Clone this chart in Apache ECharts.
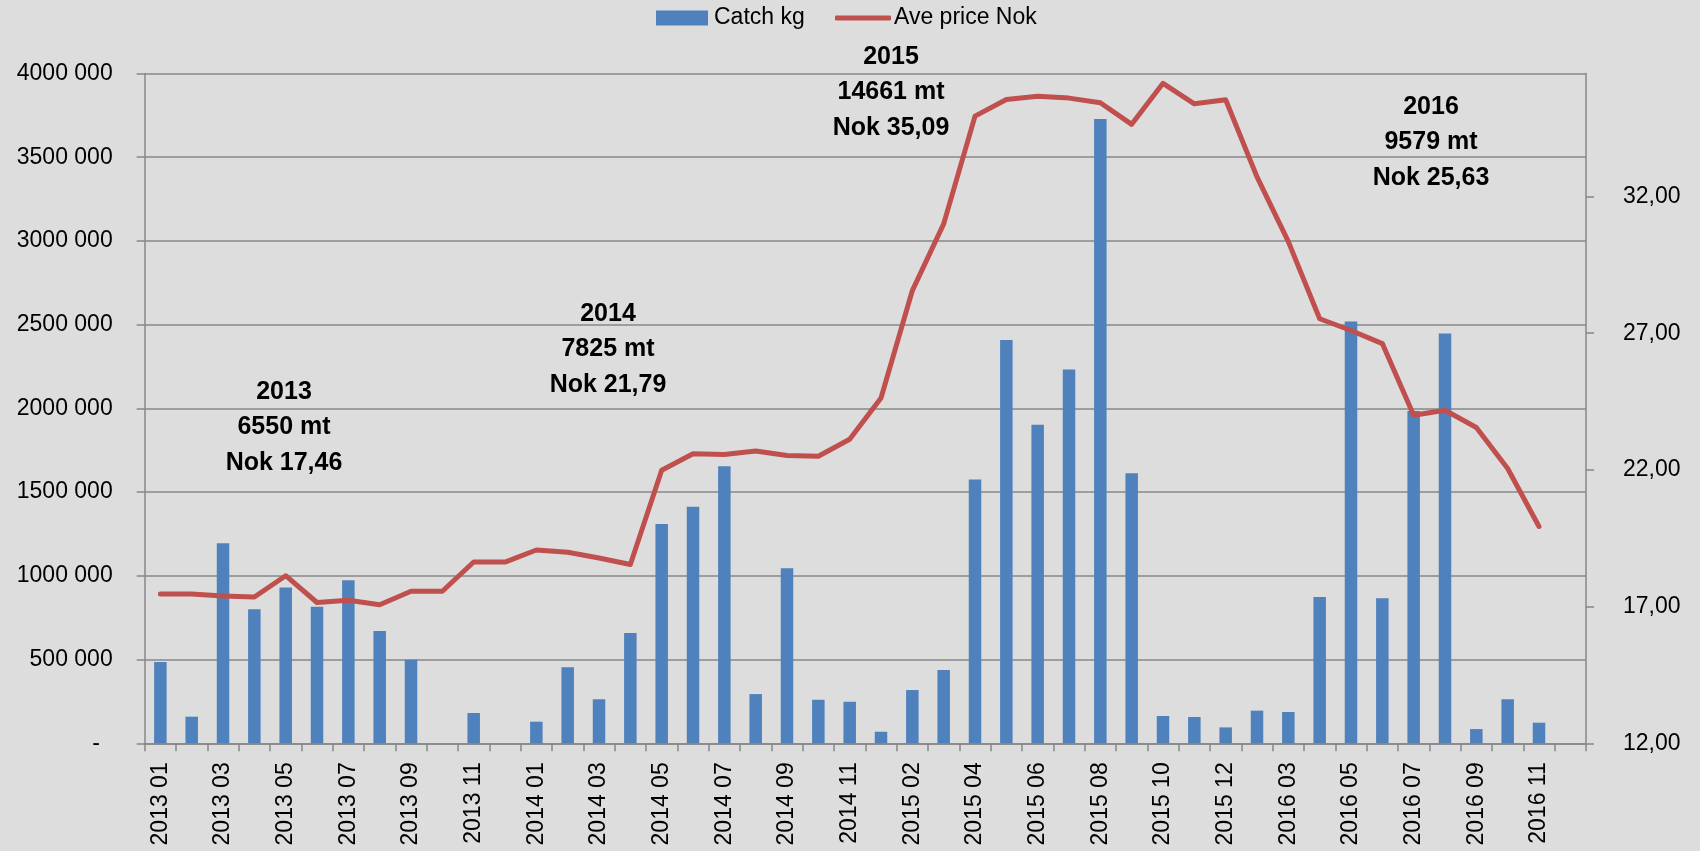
<!DOCTYPE html>
<html>
<head>
<meta charset="utf-8">
<script src="https://cdn.jsdelivr.net/npm/echarts@6/dist/echarts.min.js"></script>
<style>
html,body{margin:0;padding:0;background:#dddddd;}
#chart{width:1700px;height:851px;}
</style>
</head>
<body>
<div id="chart"></div>
<script>
// ---- data ----
const categories = [
  '2013 01','2013 02','2013 03','2013 04','2013 05','2013 06','2013 07','2013 08','2013 09','2013 10','2013 11','2013 12',
  '2014 01','2014 02','2014 03','2014 04','2014 05','2014 06','2014 07','2014 08','2014 09','2014 10','2014 11','2015 01',
  '2015 02','2015 03','2015 04','2015 05','2015 06','2015 07','2015 08','2015 09','2015 10','2015 11','2015 12','2016 01',
  '2016 03','2016 04','2016 05','2016 06','2016 07','2016 08','2016 09','2016 10','2016 11','2016 12'
];
const catchKg = [
  485000, 159000, 1194000, 800000, 931000, 816000, 973000, 670000, 499000, 0, 181000, 0,
  129000, 454000, 263000, 658000, 1309000, 1413000, 1654000, 294000, 1045000, 260000, 248000, 69000,
  318000, 438000, 1576000, 2408000, 1902000, 2233000, 3729000, 1612000, 163000, 157000, 95000, 195000,
  187000, 873000, 2519000, 866000, 1984000, 2448000, 85000, 263000, 123000, null
];
const avePriceNok = [
  17.46, 17.46, 17.39, 17.35, 18.13, 17.15, 17.23, 17.07, 17.56, 17.56, 18.63, 18.63,
  19.07, 18.99, 18.78, 18.54, 21.99, 22.59, 22.56, 22.69, 22.53, 22.50, 23.12, 24.63,
  28.56, 31.00, 34.94, 35.55, 35.67, 35.60, 35.43, 34.64, 36.14, 35.39, 35.54, 32.72,
  30.35, 27.53, 27.10, 26.62, 24.00, 24.18, 23.55, 22.05, 19.93, null
];
const seriesNames = ['Catch kg', 'Ave price Nok'];
const leftTicks = { min: 0, max: 4000000, interval: 500000 };
const rightTicks = { min: 12, max: 36.5, interval: 5 };
const yearNotes = [
  ['2013', '6550 mt', 'Nok 17,46'],
  ['2014', '7825 mt', 'Nok 21,79'],
  ['2015', '14661 mt', 'Nok 35,09'],
  ['2016', '9579 mt', 'Nok 25,63']
];

// ---- layout (text placement only) ----
const notePos = [[284, 392], [608, 314], [891, 57], [1431, 107]];
const noteLineGap = 35.5;
const FONT = '"Liberation Sans", Arial, sans-serif';
const AXIS_GRAY = '#878787';

const graphics = [];
yearNotes.forEach((lines, i) => {
  lines.forEach((t, j) => {
    graphics.push({
      type: 'text',
      x: notePos[i][0],
      y: notePos[i][1] + j * noteLineGap,
      style: {
        text: t,
        fill: '#000',
        font: 'bold 25px ' + FONT,
        textAlign: 'center',
        textVerticalAlign: 'middle'
      },
      z: 100
    });
  });
});

const legendText = { fontSize: 23, color: '#000', fontFamily: FONT, lineHeight: 26 };

const chart = echarts.init(document.getElementById('chart'), null, { renderer: 'canvas' });
chart.setOption({
  backgroundColor: '#dddddd',
  animation: false,
  textStyle: { fontFamily: FONT },
  legend: [
    {
      data: [{ name: seriesNames[0], icon: 'rect' }],
      left: 656, top: 5, padding: 0,
      itemWidth: 52, itemHeight: 15, itemGap: 6,
      textStyle: Object.assign({ padding: [0, 0, 0, 1] }, legendText)
    },
    {
      data: [{ name: seriesNames[1], icon: 'roundRect' }],
      left: 835, top: 5, padding: 0,
      itemWidth: 56, itemHeight: 5,
      textStyle: Object.assign({ padding: [0, 0, 0, -2] }, legendText)
    }
  ],
  grid: { left: 144.7, right: 114, top: 73.5, bottom: 107.7, containLabel: false },
  xAxis: {
    type: 'category',
    data: categories,
    boundaryGap: true,
    axisLine: { lineStyle: { color: AXIS_GRAY, width: 1.5 } },
    axisTick: { show: true, interval: 0, length: 8, lineStyle: { color: AXIS_GRAY, width: 1.5 } },
    axisLabel: {
      interval: 1, rotate: 90, margin: 19,
      fontSize: 23, color: '#000', fontFamily: FONT
    },
    splitLine: { show: false }
  },
  yAxis: [
    {
      type: 'value',
      min: leftTicks.min, max: leftTicks.max, interval: leftTicks.interval,
      axisLine: { show: true, lineStyle: { color: AXIS_GRAY, width: 1.5 } },
      axisTick: { show: true, length: 8, lineStyle: { color: AXIS_GRAY, width: 1.5 } },
      axisLabel: {
        margin: 32, fontSize: 23, color: '#000', fontFamily: FONT,
        formatter: v => v === 0 ? '-  ' : Math.floor(v / 1000) + ' 000'
      },
      splitLine: { show: true, lineStyle: { color: AXIS_GRAY, width: 1.5 } }
    },
    {
      type: 'value',
      position: 'right',
      min: rightTicks.min, max: rightTicks.max, interval: rightTicks.interval,
      axisLine: { show: true, lineStyle: { color: AXIS_GRAY, width: 1.5 } },
      axisTick: { show: true, length: 8, lineStyle: { color: AXIS_GRAY, width: 1.5 } },
      axisLabel: {
        margin: 37, fontSize: 23, color: '#000', fontFamily: FONT,
        showMaxLabel: false,
        formatter: v => v.toFixed(2).replace('.', ',')
      },
      splitLine: { show: false }
    }
  ],
  series: [
    {
      name: seriesNames[0],
      type: 'bar',
      data: catchKg,
      barWidth: 12.5,
      yAxisIndex: 0,
      itemStyle: { color: '#4f81bd' },
      z: 2
    },
    {
      name: seriesNames[1],
      type: 'line',
      data: avePriceNok,
      yAxisIndex: 1,
      symbol: 'none',
      showSymbol: false,
      lineStyle: { color: '#c0504d', width: 5, cap: 'round', join: 'round' },
      itemStyle: { color: '#c0504d' },
      z: 3
    }
  ],
  graphic: graphics
});
</script>
</body>
</html>
